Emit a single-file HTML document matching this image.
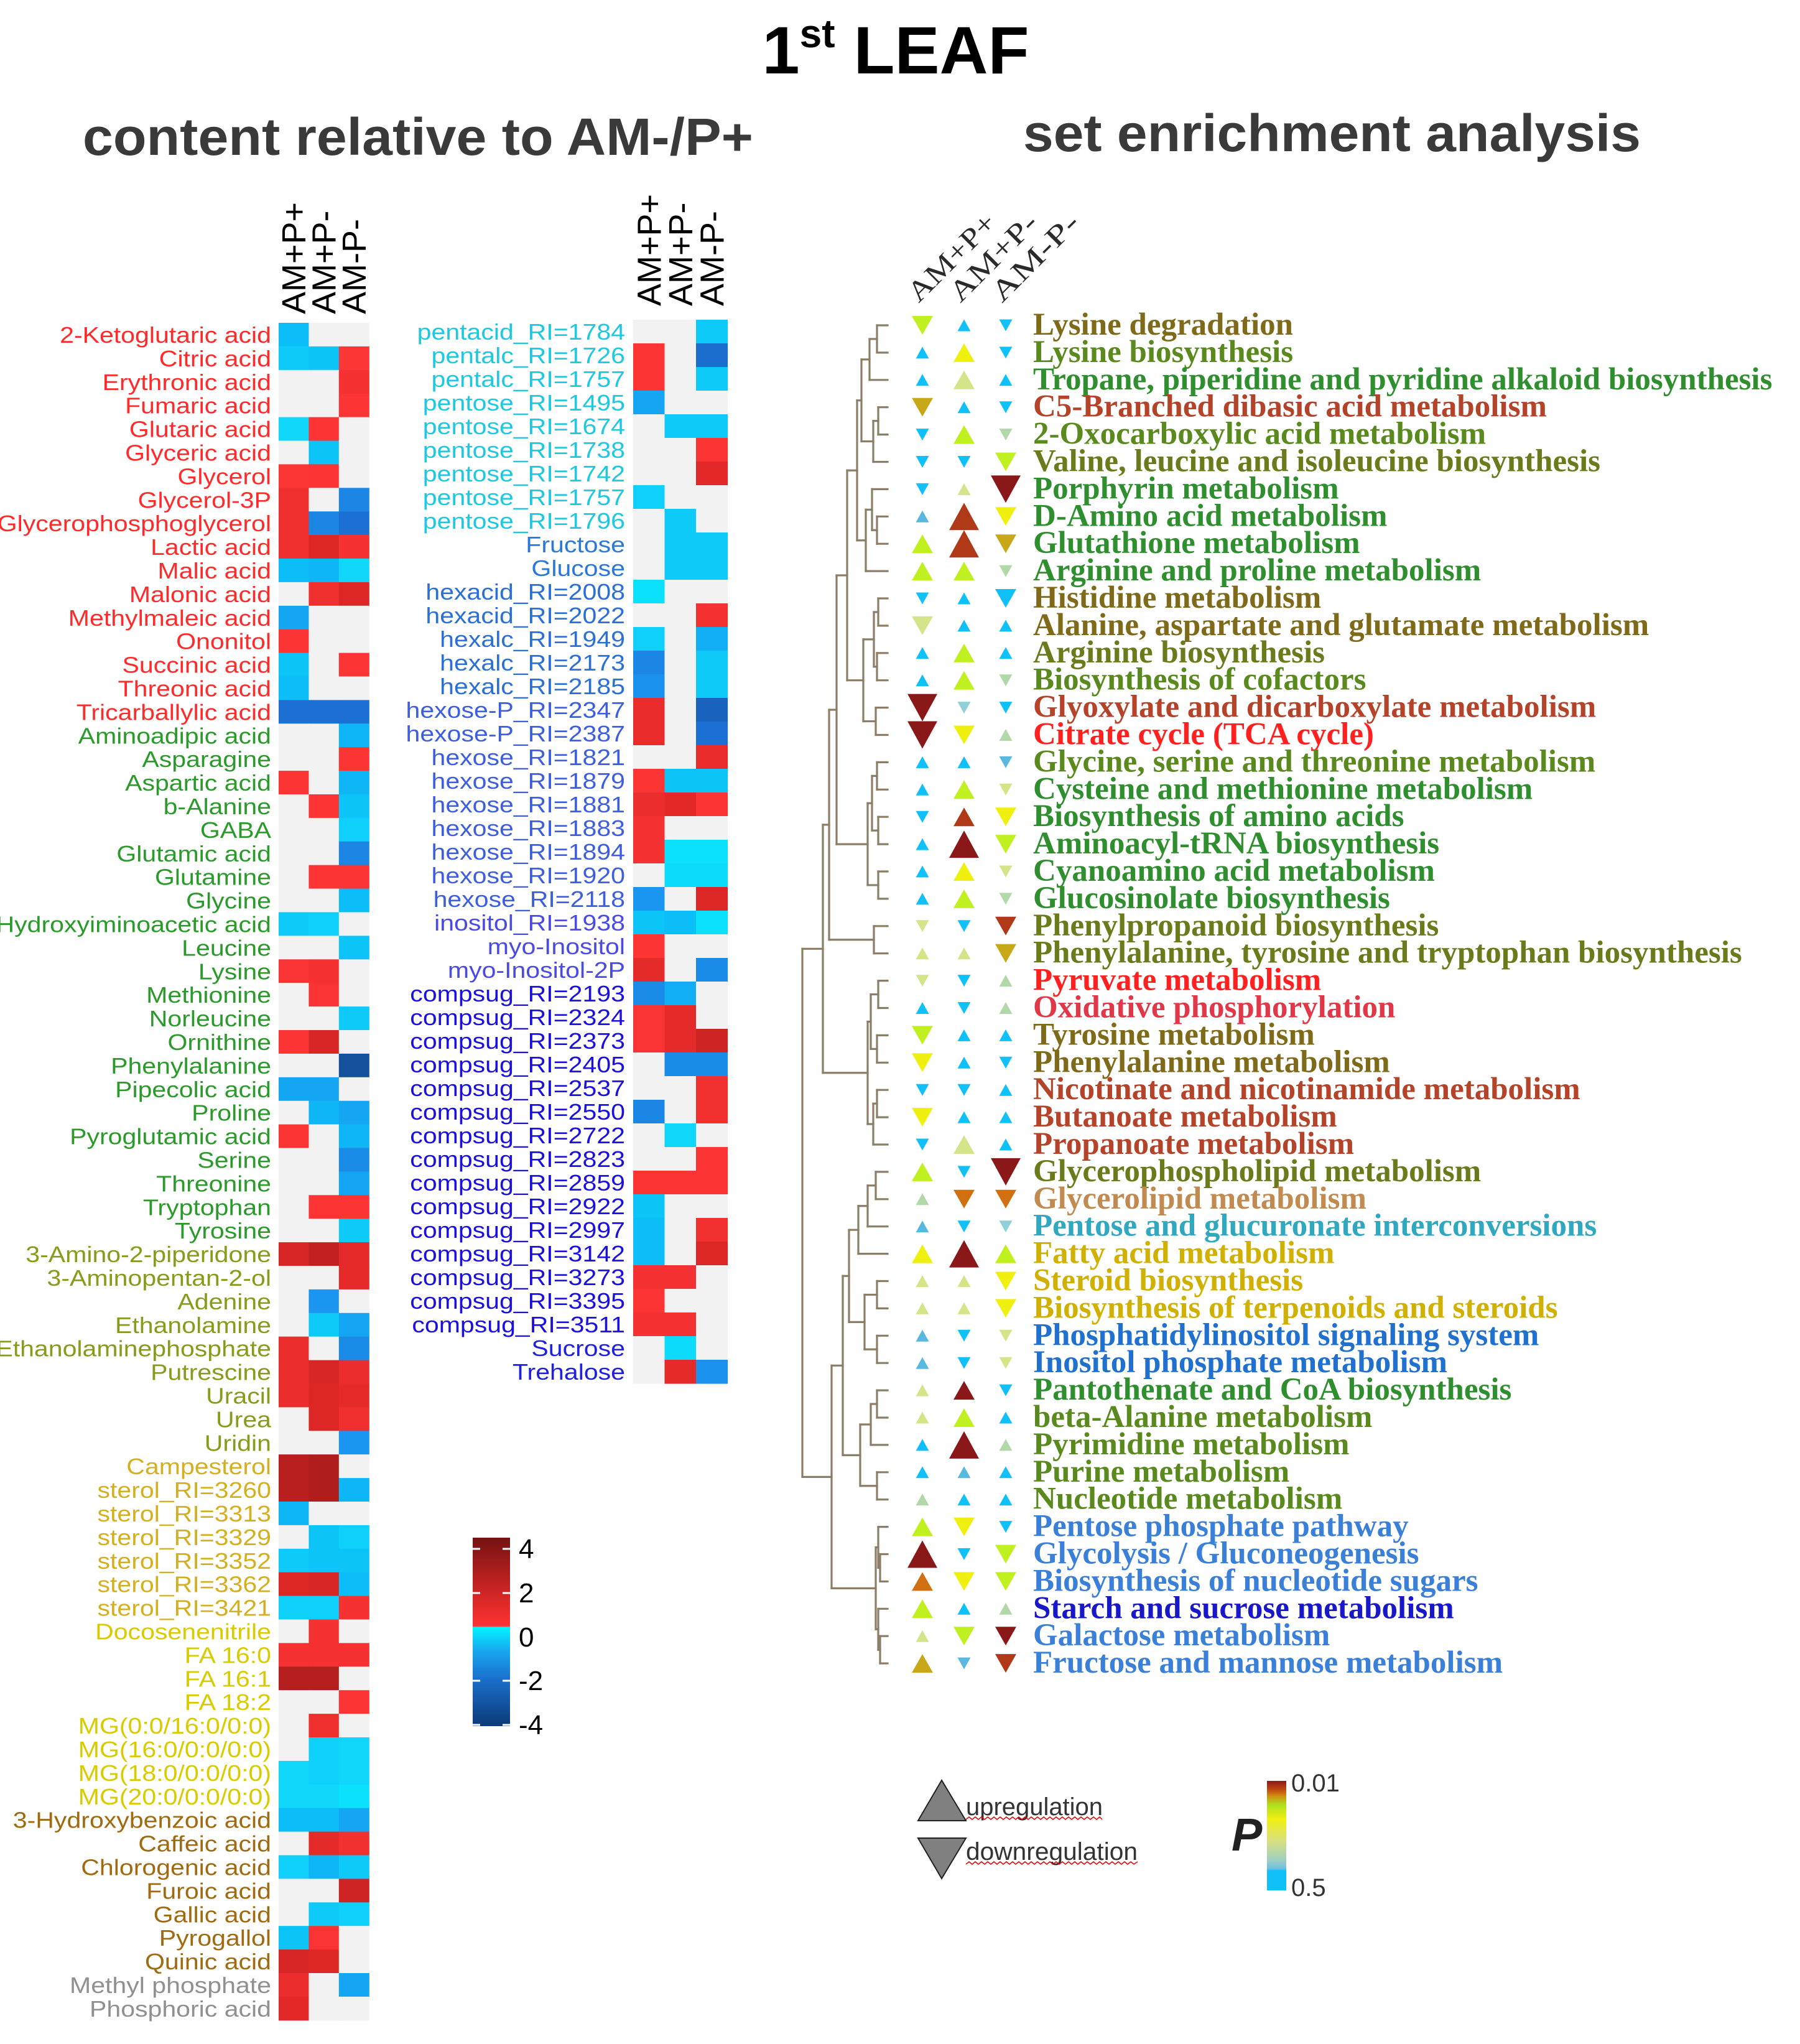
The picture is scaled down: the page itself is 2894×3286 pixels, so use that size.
<!DOCTYPE html>
<html><head><meta charset="utf-8"><title>1st LEAF</title>
<style>
html,body{margin:0;padding:0;background:#fff;}
svg{display:block;}
</style></head>
<body>
<svg id="fig" xmlns="http://www.w3.org/2000/svg" width="2894" height="3286" viewBox="0 0 2894 3286">
<defs>
<linearGradient id="hmGrad" x1="0" y1="0" x2="0" y2="1">
<stop offset="0" stop-color="#741212"/>
<stop offset="0.25" stop-color="#c42222"/>
<stop offset="0.47" stop-color="#ff3232"/>
<stop offset="0.475" stop-color="#00f4ff"/>
<stop offset="0.6" stop-color="#18a8f0"/>
<stop offset="0.75" stop-color="#1a70cc"/>
<stop offset="1" stop-color="#0c3a78"/>
</linearGradient>
<linearGradient id="pGrad" x1="0" y1="0" x2="0" y2="1">
<stop offset="0" stop-color="#8b1a1a"/>
<stop offset="0.08" stop-color="#c04a10"/>
<stop offset="0.14" stop-color="#d09010"/>
<stop offset="0.22" stop-color="#b0e020"/>
<stop offset="0.35" stop-color="#f0f010"/>
<stop offset="0.55" stop-color="#d8e080"/>
<stop offset="0.72" stop-color="#a0d0c0"/>
<stop offset="0.8" stop-color="#70c0e0"/>
<stop offset="0.82" stop-color="#10c0f8"/>
<stop offset="1" stop-color="#10c0f8"/>
</linearGradient>
</defs>
<text x="1440" y="118" text-anchor="middle" font-family="Liberation Sans, sans-serif" font-weight="bold" font-size="108" fill="#000">1<tspan dy="-42" font-size="64">st</tspan><tspan dy="42"> LEAF</tspan></text>
<text x="133" y="249" textLength="1078" lengthAdjust="spacingAndGlyphs" font-family="Liberation Sans, sans-serif" font-weight="bold" font-size="84" fill="#3a3a3a">content relative to AM-/P+</text>
<text x="1645" y="243" textLength="993" lengthAdjust="spacingAndGlyphs" font-family="Liberation Sans, sans-serif" font-weight="bold" font-size="84" fill="#3a3a3a">set enrichment analysis</text>
<g id="left-hm"></g>
<g id="mid-hm"></g>
<g id="dendro"></g>
<g id="tri"></g>
<g>
<rect x="760" y="2472" width="60" height="303" fill="url(#hmGrad)"/>
<g stroke="#fff" stroke-width="3">
<line x1="760" y1="2490" x2="772" y2="2490"/><line x1="808" y1="2490" x2="820" y2="2490"/>
<line x1="760" y1="2561" x2="772" y2="2561"/><line x1="808" y1="2561" x2="820" y2="2561"/>
<line x1="760" y1="2702" x2="772" y2="2702"/><line x1="808" y1="2702" x2="820" y2="2702"/>
<line x1="760" y1="2773" x2="772" y2="2773"/><line x1="808" y1="2773" x2="820" y2="2773"/>
</g>
<g font-family="Liberation Sans, sans-serif" font-size="44" fill="#000">
<text x="834" y="2505">4</text>
<text x="834" y="2576">2</text>
<text x="834" y="2647">0</text>
<text x="834" y="2717">-2</text>
<text x="834" y="2788">-4</text>
</g>
</g>
<g>
<polygon points="1514,2862 1476,2927 1553,2927" fill="#808080" stroke="#222" stroke-width="2"/>
<text x="1553" y="2918" font-family="Liberation Sans, sans-serif" font-size="40" fill="#333" textLength="220" lengthAdjust="spacingAndGlyphs">upregulation</text>
<polyline points="1553,2925 1558,2921 1563,2925 1568,2921 1573,2925 1578,2921 1583,2925 1588,2921 1593,2925 1598,2921 1603,2925 1608,2921 1613,2925 1618,2921 1623,2925 1628,2921 1633,2925 1638,2921 1643,2925 1648,2921 1653,2925 1658,2921 1663,2925 1668,2921 1673,2925 1678,2921 1683,2925 1688,2921 1693,2925 1698,2921 1703,2925 1708,2921 1713,2925 1718,2921 1723,2925 1728,2921 1733,2925 1738,2921 1743,2925 1748,2921 1753,2925 1758,2921 1763,2925 1768,2921 1772,2925" fill="none" stroke="#e00" stroke-width="1.5"/>
<polygon points="1476,2955 1553,2955 1514,3020" fill="#808080" stroke="#222" stroke-width="2"/>
<text x="1553" y="2990" font-family="Liberation Sans, sans-serif" font-size="40" fill="#333" textLength="276" lengthAdjust="spacingAndGlyphs">downregulation</text>
<polyline points="1553,2997 1558,2993 1563,2997 1568,2993 1573,2997 1578,2993 1583,2997 1588,2993 1593,2997 1598,2993 1603,2997 1608,2993 1613,2997 1618,2993 1623,2997 1628,2993 1633,2997 1638,2993 1643,2997 1648,2993 1653,2997 1658,2993 1663,2997 1668,2993 1673,2997 1678,2993 1683,2997 1688,2993 1693,2997 1698,2993 1703,2997 1708,2993 1713,2997 1718,2993 1723,2997 1728,2993 1733,2997 1738,2993 1743,2997 1748,2993 1753,2997 1758,2993 1763,2997 1768,2993 1773,2997 1778,2993 1783,2997 1788,2993 1793,2997 1798,2993 1803,2997 1808,2993 1813,2997 1818,2993 1823,2997 1829,2993" fill="none" stroke="#e00" stroke-width="1.5"/>
</g>
<g>
<text x="1980" y="2975" font-family="Liberation Sans, sans-serif" font-weight="bold" font-style="italic" font-size="74" fill="#222">P</text>
<rect x="2037" y="2863" width="31" height="176" fill="url(#pGrad)"/>
<text x="2076" y="2880" font-family="Liberation Sans, sans-serif" font-size="40" fill="#333">0.01</text>
<text x="2076" y="3048" font-family="Liberation Sans, sans-serif" font-size="40" fill="#333">0.5</text>
</g>
</svg>
<script>
// ---------- data ----------
const leftNames = ["2-Ketoglutaric acid","Citric acid","Erythronic acid","Fumaric acid","Glutaric acid","Glyceric acid","Glycerol","Glycerol-3P","Glycerophosphoglycerol","Lactic acid","Malic acid","Malonic acid","Methylmaleic acid","Ononitol","Succinic acid","Threonic acid","Tricarballylic acid","Aminoadipic acid","Asparagine","Aspartic acid","b-Alanine","GABA","Glutamic acid","Glutamine","Glycine","Hydroxyiminoacetic acid","Leucine","Lysine","Methionine","Norleucine","Ornithine","Phenylalanine","Pipecolic acid","Proline","Pyroglutamic acid","Serine","Threonine","Tryptophan","Tyrosine","3-Amino-2-piperidone","3-Aminopentan-2-ol","Adenine","Ethanolamine","Ethanolaminephosphate","Putrescine","Uracil","Urea","Uridin","Campesterol","sterol_RI=3260","sterol_RI=3313","sterol_RI=3329","sterol_RI=3352","sterol_RI=3362","sterol_RI=3421","Docosenenitrile","FA 16:0","FA 16:1","FA 18:2","MG(0:0/16:0/0:0)","MG(16:0/0:0/0:0)","MG(18:0/0:0/0:0)","MG(20:0/0:0/0:0)","3-Hydroxybenzoic acid","Caffeic acid","Chlorogenic acid","Furoic acid","Gallic acid","Pyrogallol","Quinic acid","Methyl phosphate","Phosphoric acid"];
const leftGroups = "RRRRRRRRRRRRRRRRRGGGGGGGGGGGGGGGGGGGGGGOOOOOOOOOSSSSSSSYYYYYYYYPPPPPPPXX";
const leftAMPP = [-1.0,-0.8,0,0,-0.6,0,1.5,2,2,2,-1,0,-1.3,1.6,-0.9,-1.0,-2.2,0,0,1.6,0,0,0,0,0,-0.8,0,1.7,0,0,1.6,0,-1.3,0,1.6,0,0,0,0,2.6,0,0,0,2.1,2.1,2.1,0,0,3.2,3.2,-1.1,0,-0.8,2.5,-0.7,0,1.8,3.3,0,0,0,-0.6,-0.6,-1.0,0,-0.7,0,0,-0.9,2.6,2.1,2.4];
const leftAMPM = [0,-0.9,0,0,1.6,-0.9,1.6,0,-1.8,2.5,-1.1,2,0,0,0,0,-2.2,0,0,0,1.6,0,0,1.6,0,-0.7,0,1.8,1.7,0,2.6,0,-1.3,-1.1,0,0,0,1.6,0,3.0,0,-1.5,-0.8,0,2.6,2.5,2.5,0,3.4,3.4,0,-0.9,-0.9,2.6,-0.7,1.8,1.8,3.3,0,2.0,-0.7,-0.7,-0.6,-1.0,2.3,-1.1,0,-0.8,1.7,2.5,0,0];
const leftNMPM = [0,1.5,1.8,1.6,0,0,0,-1.8,-2.2,1.8,-0.6,2.5,0,0,1.6,0,-2.2,-1.1,1.6,-1.1,-0.9,-0.7,-1.8,1.6,-1.0,0,-0.9,0,0,-0.8,0,-3.2,0,-1.3,-1.1,-1.7,-1.3,1.6,-0.8,2.3,2.3,0,-1.3,-1.7,2.1,2.3,2.0,-1.5,0,-1.1,0,-0.7,-0.9,-1.0,1.8,0,1.8,0,1.6,0,-0.6,-0.6,-0.4,-1.3,1.9,-0.8,2.8,-0.7,0,0,-1.3,0];

const midNames = ["pentacid_RI=1784","pentalc_RI=1726","pentalc_RI=1757","pentose_RI=1495","pentose_RI=1674","pentose_RI=1738","pentose_RI=1742","pentose_RI=1757","pentose_RI=1796","Fructose","Glucose","hexacid_RI=2008","hexacid_RI=2022","hexalc_RI=1949","hexalc_RI=2173","hexalc_RI=2185","hexose-P_RI=2347","hexose-P_RI=2387","hexose_RI=1821","hexose_RI=1879","hexose_RI=1881","hexose_RI=1883","hexose_RI=1894","hexose_RI=1920","hexose_RI=2118","inositol_RI=1938","myo-Inositol","myo-Inositol-2P","compsug_RI=2193","compsug_RI=2324","compsug_RI=2373","compsug_RI=2405","compsug_RI=2537","compsug_RI=2550","compsug_RI=2722","compsug_RI=2823","compsug_RI=2859","compsug_RI=2922","compsug_RI=2997","compsug_RI=3142","compsug_RI=3273","compsug_RI=3395","compsug_RI=3511","Sucrose","Trehalose"];
const midGroups = "CCCCCCCCCFFHHHHHVVVVVVVVVIIIKKKKKKKKKKKKKKKSS";
const midAMPP = [0,1.6,1.6,-1.3,0,0,0,-0.7,0,0,0,-0.4,0,-0.7,-1.8,-1.6,2.2,2.2,0,1.6,2.1,1.8,1.8,0,-1.5,-0.9,1.6,2.3,-1.7,1.7,1.7,0,0,-1.8,0,0,1.6,-0.9,-1.0,-1.0,1.8,1.6,1.8,0,0];
const midAMPM = [0,0,0,0,-0.8,0,0,0,-0.8,-0.8,-0.8,0,0,0,0,0,0,0,0,-0.9,2.4,0,-0.4,-0.5,0,-1.0,0,0,-1.2,2.3,2.3,-1.7,0,0,-0.6,0,1.6,0,0,0,1.8,0,1.8,-0.5,2.3];
const midNMPM = [-0.8,-2.3,-0.8,0,-0.8,1.6,2.4,0,0,-0.8,-0.8,0,1.8,-1.2,-0.8,-0.8,-2.6,-2.2,2.2,-0.9,1.6,0,-0.4,-0.5,2.5,-0.4,0,-1.7,0,0,2.8,-1.7,1.9,1.9,0,1.6,1.6,0,1.9,2.5,0,0,0,0,-1.6];

const pathways = ["Lysine degradation","Lysine biosynthesis","Tropane, piperidine and pyridine alkaloid biosynthesis","C5-Branched dibasic acid metabolism","2-Oxocarboxylic acid metabolism","Valine, leucine and isoleucine biosynthesis","Porphyrin metabolism","D-Amino acid metabolism","Glutathione metabolism","Arginine and proline metabolism","Histidine metabolism","Alanine, aspartate and glutamate metabolism","Arginine biosynthesis","Biosynthesis of cofactors","Glyoxylate and dicarboxylate metabolism","Citrate cycle (TCA cycle)","Glycine, serine and threonine metabolism","Cysteine and methionine metabolism","Biosynthesis of amino acids","Aminoacyl-tRNA biosynthesis","Cyanoamino acid metabolism","Glucosinolate biosynthesis","Phenylpropanoid biosynthesis","Phenylalanine, tyrosine and tryptophan biosynthesis","Pyruvate metabolism","Oxidative phosphorylation","Tyrosine metabolism","Phenylalanine metabolism","Nicotinate and nicotinamide metabolism","Butanoate metabolism","Propanoate metabolism","Glycerophospholipid metabolism","Glycerolipid metabolism","Pentose and glucuronate interconversions","Fatty acid metabolism","Steroid biosynthesis","Biosynthesis of terpenoids and steroids","Phosphatidylinositol signaling system","Inositol phosphate metabolism","Pantothenate and CoA biosynthesis","beta-Alanine metabolism","Pyrimidine metabolism","Purine metabolism","Nucleotide metabolism","Pentose phosphate pathway","Glycolysis / Gluconeogenesis","Biosynthesis of nucleotide sugars","Starch and sucrose metabolism","Galactose metabolism","Fructose and mannose metabolism"];
const pathwayGroups = ["O","V","G","B","V","L","G","G","G","G","O","O","L","V","B","R","V","G","G","G","G","G","L","L","R","K","O","O","B","B","B","L","N","T","Y","Y","Y","U","U","G","V","V","V","V","C","C","C","D","C","C"];
const enrAMPP = ["d2l","u1c","u1c","d2o","d1c","d1c","d1c","u1b","u2l","u2l","d1c","d2p","u1c","u1c","d3d","d3d","u1c","u1c","d1c","u1c","u1c","u1c","d1p","u1p","d1p","u1c","d2l","d2y","d1c","d2y","d1c","u2l","u1g","u1b","u2y","u1p","u1p","u1b","u1b","u1p","u1p","u1c","u1c","u1g","u2l","u3d","u2r","u2l","u1p","u2o"];
const enrAMPM = ["u1c","u2y","u2p","u1c","u2l","d1c","u1p","u3u","u3u","u2l","u1c","u1c","u2l","u2l","d1t","d2y","u1c","u2l","u2u","u3d","u2y","u2l","d1c","u1p","d1c","d1c","u1c","u1c","d1c","u1c","u2p","d1c","d2r","d1c","u3d","u1p","u1p","d1c","d1c","u2d","u2l","u3d","u1b","u1c","d2y","d1c","d2y","u1c","d2l","d1b"];
const enrNMPM = ["d1c","d1c","u1c","d1c","d1g","d2l","d3d","d2y","d2o","d1g","d2c","u1c","u1c","d1g","d1c","u1g","d1b","d1p","d2y","d2l","d1p","d1g","d2u","d2o","u1g","u1g","u1c","d1c","u1c","u1c","u1c","d3d","d2r","d1t","u2l","d2y","d2y","d1p","d1p","d1c","u1c","u1g","u1c","u1c","d1c","d2l","d2l","u1g","d2d","d2u"];

// ---------- helpers ----------
const NS = "http://www.w3.org/2000/svg";
function mk(tag, attrs, parent){ const e=document.createElementNS(NS,tag); for(const k in attrs) e.setAttribute(k,attrs[k]); parent.appendChild(e); return e; }
function lerp(a,b,t){return [0,1,2].map(i=>Math.round(a[i]+(b[i]-a[i])*t));}
function heatColor(v){
  if(v===0) return "#f2f2f2";
  const pos=[[0,[255,62,62]],[1.6,[252,52,52]],[2.4,[226,40,40]],[3.3,[180,30,30]],[4.5,[116,18,18]]];
  const neg=[[0,[0,244,255]],[0.6,[16,214,250]],[1.0,[12,190,248]],[1.5,[26,150,240]],[2.2,[28,112,212]],[3.2,[20,80,156]],[4.5,[12,58,120]]];
  const st = v>0?pos:neg; const a=Math.abs(v);
  for(let i=1;i<st.length;i++){ if(a<=st[i][0]){ const t=(a-st[i-1][0])/(st[i][0]-st[i-1][0]); const c=lerp(st[i-1][1],st[i][1],t); return "rgb("+c.join(",")+")"; } }
  const c=st[st.length-1][1]; return "rgb("+c.join(",")+")";
}
const leftColors = {R:"#ff2a2a",G:"#2a9a2a",O:"#8a9a1a",S:"#d4b020",Y:"#d8cc00",P:"#a06a10",X:"#909090"};
const midColors = {C:"#1ec8e0",F:"#2a78d8",H:"#2a70d6",V:"#3e5ee0",I:"#4a4ae6",K:"#1a10e0",S:"#2020e0"};
const pathColors = {O:"#7f6a1a",V:"#5a8a1e",G:"#2f8f2f",B:"#b5432a",L:"#6b7a1a",R:"#ff2020",K:"#e03848",N:"#c08a50",T:"#30a8c0",Y:"#d0b000",U:"#2070d0",C:"#3a80d8",D:"#1818c8"};
const triColors = {c:"#10c0f8",b:"#58b8e0",t:"#90d0d8",g:"#b0d8a8",p:"#d4e488",y:"#f0f010",l:"#c0f020",o:"#c8a818",r:"#d07010",u:"#b03a18",d:"#8b1818"};

function heatmap(gid, names, groups, colorMap, s1, s2, s3, x0, y0, cw, rh, labelX, headY){
  const g=document.getElementById(gid);
  const cols=[s1,s2,s3];
  const heads=["AM+P+","AM+P-","AM-P-"];
  for(let c=0;c<3;c++){
    const cx=x0+cw*c+cw/2+19;
    const t=mk("text",{x:cx,y:headY,transform:"rotate(-90 "+cx+" "+headY+")","font-family":"Liberation Sans, sans-serif","font-size":"54",fill:"#000"},g);
    
    
    t.textContent=heads[c];
  }
  for(let r=0;r<names.length;r++){
    const y=y0+r*rh;
    for(let c=0;c<3;c++){
      const cell=mk("rect",{x:x0+cw*c,y:y,width:cw+0.6,height:rh+0.6,fill:heatColor(cols[c][r])},g);
      
      
    }
    const lab=mk("text",{x:labelX,y:y+rh/2+13,"text-anchor":"end","font-family":"Liberation Sans, sans-serif","font-size":"36",fill:colorMap[groups[r]]},g);
    
    
    lab.textContent=names[r];
    const w=lab.getComputedTextLength();
    if(w>0){ lab.setAttribute('textLength',(w*1.14).toFixed(1)); lab.setAttribute('lengthAdjust','spacingAndGlyphs'); }
  }
}
heatmap("left-hm", leftNames, leftGroups, leftColors, leftAMPP, leftAMPM, leftNMPM, 448, 519, 48.4, 37.9, 436, 505);
heatmap("mid-hm", midNames, midGroups, midColors, midAMPP, midAMPM, midNMPM, 1018, 514, 50.5, 38.0, 1005, 492);

// ---------- enrichment ----------
const rowY0=523, rowH=43.9;
const triX=[1483,1550,1617];
const triG=document.getElementById('tri');
const enr=[enrAMPP,enrAMPM,enrNMPM];
const sizes={1:[21,19],2:[34,30],3:[48,44]};
const hdr=["AM+P+","AM+P-","AM-P-"];
for(let c=0;c<3;c++){
  const hx=triX[c]-6, hy=488;
  const t=mk("text",{x:hx,y:hy,transform:"rotate(-45 "+hx+" "+hy+")","font-family":"Liberation Serif, serif","font-size":"46",fill:"#2a2a2a",textLength:"180",lengthAdjust:"spacingAndGlyphs"},triG);
  
  
  t.textContent=hdr[c];
}
for(let r=0;r<pathways.length;r++){
  const cy=rowY0+r*rowH;
  for(let c=0;c<3;c++){
    const code=enr[c][r];
    const [w,h]=sizes[code[1]];
    const x=triX[c];
    let pts;
    if(code[0]==="u") pts=[x,cy-h/2,x-w/2,cy+h/2,x+w/2,cy+h/2];
    else pts=[x-w/2,cy-h/2,x+w/2,cy-h/2,x,cy+h/2];
    const p=mk("polygon",{points:pts.join(","),fill:triColors[code[2]]},triG);
    
    
  }
  const lab=mk("text",{x:1661,y:cy+15,"font-family":"Liberation Serif, serif","font-weight":"bold","font-size":"51",fill:pathColors[pathwayGroups[r]]},triG);
  
  
  lab.textContent=pathways[r];
}

// ---------- dendrogram ----------
const dG=document.getElementById('dendro');
const LEAFX=1427;
const treeTop=[
 [
  [
   [
    [
     [[[0,1,1410],2,1398],[[3,4,1412],5,1404],1385],
     [[6,[7,8,1410],1402],9,1392],1378],
    [[[10,11,1412],[12,13,1410],1405],[14,15,1408],1388],1362],
   [[[16,17,1410],[18,19,1412],1402],[20,21,1412],1395],1345],
  [22,23,1405],1333],
 [[[24,25,1412],[26,27,1410],1400],[[28,29,1410],30,1404],1395],1323];
const treeBottom=[
 [
  [[[[31,32,1408],33,1395],34,1380],[[35,36,1410],[37,38,1410],1390],1365],
  [[[39,40,1410],41,1400],[42,43,1410],1383],1355],
 [[44,[45,46,1415],1412],[47,[48,49,1415],1412],1408],1337];
const rootTree=[treeTop,treeBottom,1290];
function seg(x1,y1,x2,y2){
  const l=mk("line",{x1:x1,y1:y1,x2:x2,y2:y2,stroke:"#8c7e66","stroke-width":"3.2","stroke-linecap":"square"},dG);
  
  
}
function draw(n){
  if(typeof n==="number") return {x:LEAFX,y:rowY0+n*rowH};
  const a=draw(n[0]), b=draw(n[1]), x=n[2];
  seg(x,a.y,a.x,a.y); seg(x,b.y,b.x,b.y); seg(x,a.y,x,b.y);
  return {x:x,y:(a.y+b.y)/2};
}
draw(rootTree);
</script>
</body></html>
